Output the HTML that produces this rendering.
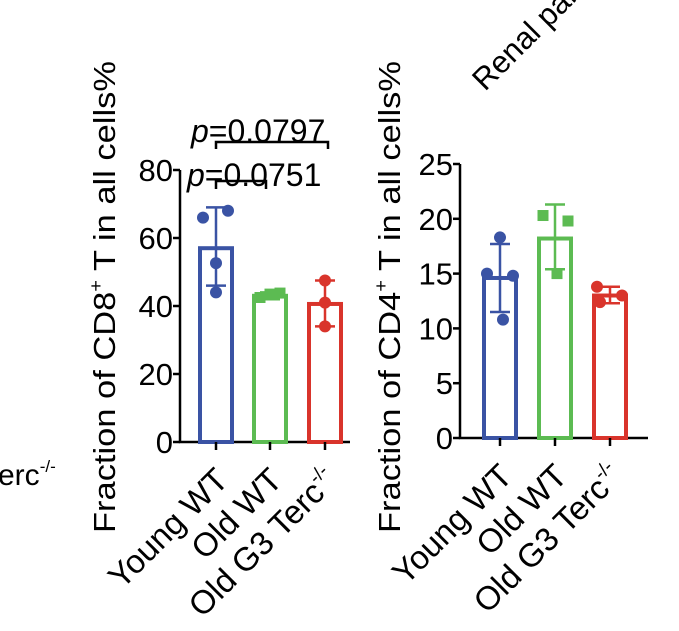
<!DOCTYPE html>
<html><head><meta charset="utf-8"><style>
body{margin:0;background:#fff;width:679px;height:626px;overflow:hidden}
svg{font-family:"Liberation Sans",Arial,sans-serif}
</style></head><body>
<svg id="s" width="679" height="626" viewBox="0 0 679 626">
<text x="-2" y="485" font-size="30">erc<tspan font-size="17" dy="-13">-/-</tspan></text>
<text transform="translate(485,92) rotate(-45)" font-size="31">Renal parenchyma</text>
<text transform="translate(115,297) rotate(-90)" text-anchor="middle" font-size="31" textLength="472" lengthAdjust="spacingAndGlyphs">Fraction of CD8<tspan font-size="18" dy="-13">+</tspan><tspan dy="13"> T in all cells%</tspan></text>
<text transform="translate(400,297) rotate(-90)" text-anchor="middle" font-size="31" textLength="472" lengthAdjust="spacingAndGlyphs">Fraction of CD4<tspan font-size="18" dy="-13">+</tspan><tspan dy="13"> T in all cells%</tspan></text>
<g stroke="#000" stroke-width="2.5" fill="none">
<path d="M216,189 V181 H266 V189"/><path d="M216,149 V142 H328 V149"/>
</g>
<text x="187" y="186" font-size="32"><tspan font-style="italic">p</tspan>=0.0751</text>
<text x="191" y="142" font-size="32"><tspan font-style="italic">p</tspan>=0.0797</text>
<g id="c1"></g>
<g id="c2"></g>
</svg>
<script>
const categories=["Young WT","Old WT","Old G3 Terc"];
const colors=["#3a53a4","#5cbb52","#d9342b"];
const cd8Means=[57,43,40.6];
const cd8Err=[[46,69],[42,44],[34,47.5]];
const cd8Points=[[66,68,52.6,44],[42.5,43.5,43.8],[47.5,41,34]];
const cd8Ticks=[0,20,40,60,80];
const cd4Means=[14.6,18.2,13.0];
const cd4Err=[[11.5,17.7],[15.4,21.3],[12.3,13.8]];
const cd4Points=[[18.3,15.0,14.8,10.8],[20.3,19.8,15.0],[13.8,13.0,12.4]];
const cd4Ticks=[0,5,10,15,20,25];
// horizontal scatter offsets (styling)
const jit1=[[-13,12,0,0],[-10,0,10],[0,0,0]];
const jit2=[[0,-13,13,3],[-12,13,2],[-13,12,-10]];
const NS="http://www.w3.org/2000/svg";
function mk(p,t,a){const e=document.createElementNS(NS,t);for(const k in a)e.setAttribute(k,a[k]);p.appendChild(e);return e;}
function chart(g,o){
 const y=v=>o.y0-v*(o.y0-o.y1)/o.max;
 const x=i=>o.xc[i];
 let ax=mk(g,'path',{d:`M${o.ax},${o.y1} V${o.y0} H${o.xe}`,stroke:'#000','stroke-width':2.5,fill:'none'});
 
 
 o.ticks.forEach(t=>{
  let l=mk(g,'line',{x1:o.ax-7,x2:o.ax,y1:y(t),y2:y(t),stroke:'#000','stroke-width':2.5});
  
  
  let tx=mk(g,'text',{x:o.ax-7,y:y(t)+11,'text-anchor':'end','font-size':31});tx.textContent=t;
  
  
 });
 categories.forEach((c,i)=>{
  const col=colors[i],bw=32;
  let b=mk(g,'rect',{x:x(i)-bw/2,y:y(o.means[i]),width:bw,height:o.y0-y(o.means[i]),fill:'none',stroke:col,'stroke-width':4});
  
  
  let e=mk(g,'path',{d:`M${x(i)},${y(o.err[i][0])} V${y(o.err[i][1])} M${x(i)-10},${y(o.err[i][0])} H${x(i)+10} M${x(i)-10},${y(o.err[i][1])} H${x(i)+10}`,stroke:col,'stroke-width':2.5,fill:'none'});
  
  
  o.pts[i].forEach((v,j)=>{
   const dx=o.jit[i][j];
   let p=(i==1)?mk(g,'rect',{x:x(i)+dx-5.5,y:y(v)-5.5,width:11,height:11,fill:col}):mk(g,'circle',{cx:x(i)+dx,cy:y(v),r:6,fill:col});
   
   
  });
  let tk=mk(g,'line',{x1:x(i),x2:x(i),y1:o.y0,y2:o.y0+8,stroke:'#000','stroke-width':2.5});
  
  
  let lb=mk(g,'text',{transform:`translate(${x(i)+14},${o.y0+40}) rotate(-45)`,'text-anchor':'end','font-size':33});
  lb.textContent=c;
  if(i==2){let ts=mk(lb,'tspan',{'font-size':19,dy:-14});ts.textContent='-/-';}
  
  
 });
}
chart(document.getElementById('c1'),{y0:442,y1:170,max:80,ax:180,xe:350,xc:[216,270,325],means:cd8Means,err:cd8Err,pts:cd8Points,ticks:cd8Ticks,jit:jit1});
chart(document.getElementById('c2'),{y0:438,y1:164,max:25,ax:460,xe:648,xc:[500,555,610],means:cd4Means,err:cd4Err,pts:cd4Points,ticks:cd4Ticks,jit:jit2});
</script>
</body></html>
